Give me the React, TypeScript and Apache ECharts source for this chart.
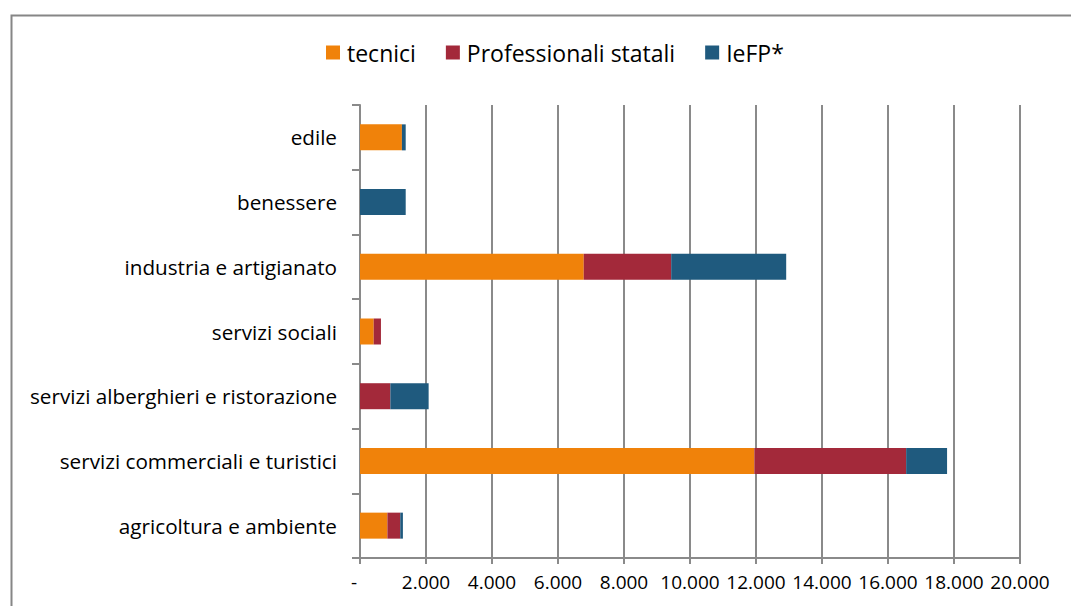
import React, { useEffect, useRef } from "react";
import * as echarts from "echarts";

// Sector categories, listed bottom-to-top as the category axis draws them
const categories = [
  "agricoltura e ambiente",
  "servizi commerciali e turistici",
  "servizi alberghieri e ristorazione",
  "servizi sociali",
  "industria e artigianato",
  "benessere",
  "edile",
];

const seriesNames = ["tecnici", "Professionali statali", "IeFP*"];

const tecnici = [830, 11950, 0, 415, 6780, 0, 1270];
const professionaliStatali = [390, 4600, 920, 220, 2650, 0, 0];
const iefp = [80, 1240, 1160, 0, 3485, 1385, 115];

const xMin = 0;
const xMax = 20000;
const xStep = 2000;

const colors = ["#F0820A", "#A3293A", "#1F5A7E"];

const FONT = "'Open Sans', 'Noto Sans', sans-serif";
const GRAY = "#8a8a8a";

function formatThousands(v: number): string {
  if (v === 0) return "{dash|-}";
  return String(v).replace(/\B(?=(\d{3})+(?!\d))/g, ".");
}

export default function App() {
  const ref = useRef<HTMLDivElement>(null);

  useEffect(() => {
    if (!ref.current) return;
    const chart = echarts.init(ref.current, undefined, { renderer: "svg" });
    const values = [tecnici, professionaliStatali, iefp];

    chart.setOption({
      animation: false,
      backgroundColor: "#ffffff",
      textStyle: { fontFamily: FONT },
      graphic: [
        {
          type: "rect",
          left: 9,
          top: 13,
          shape: { x: 0, y: 0, width: 1100, height: 700 },
          style: { fill: "none", stroke: "#868686", lineWidth: 2 },
          silent: true,
        },
      ],
      legend: {
        top: 36,
        left: 321,
        itemWidth: 14,
        itemHeight: 14,
        itemGap: 30,
        icon: "rect",
        textStyle: { fontSize: 23, color: "#000", fontFamily: FONT, padding: [0, 0, 0, 2] },
        data: seriesNames,
      },
      grid: {
        left: 360,
        right: 51,
        top: 105,
        bottom: 48,
        containLabel: false,
        outerBoundsMode: "none",
      },
      xAxis: {
        type: "value",
        min: xMin,
        max: xMax,
        interval: xStep,
        axisLine: { show: true, lineStyle: { color: GRAY, width: 2 } },
        axisTick: { show: true, length: 6, lineStyle: { color: GRAY, width: 2 } },
        splitLine: { show: true, lineStyle: { color: GRAY, width: 2 } },
        axisLabel: {
          fontSize: 19,
          color: "#000",
          fontFamily: FONT,
          margin: 14,
          formatter: formatThousands,
          rich: { dash: { fontSize: 19, color: "#000", fontFamily: FONT, padding: [0, 12, 0, 0] } },
        },
      },
      yAxis: {
        type: "category",
        data: categories,
        axisLine: { show: true, lineStyle: { color: GRAY, width: 2 } },
        axisTick: { show: true, length: 8, lineStyle: { color: GRAY, width: 2 } },
        splitLine: { show: false },
        axisLabel: { fontSize: 20.7, color: "#000", fontFamily: FONT, margin: 23 },
      },
      series: seriesNames.map((name, i) => ({
        name,
        type: "bar",
        stack: "total",
        barWidth: 26,
        data: values[i],
        itemStyle: { color: colors[i] },
      })),
    });

    return () => chart.dispose();
  }, []);

  return (
    <div
      ref={ref}
      style={{ position: "fixed", left: 0, top: 0, width: 1071, height: 606 }}
    />
  );
}
